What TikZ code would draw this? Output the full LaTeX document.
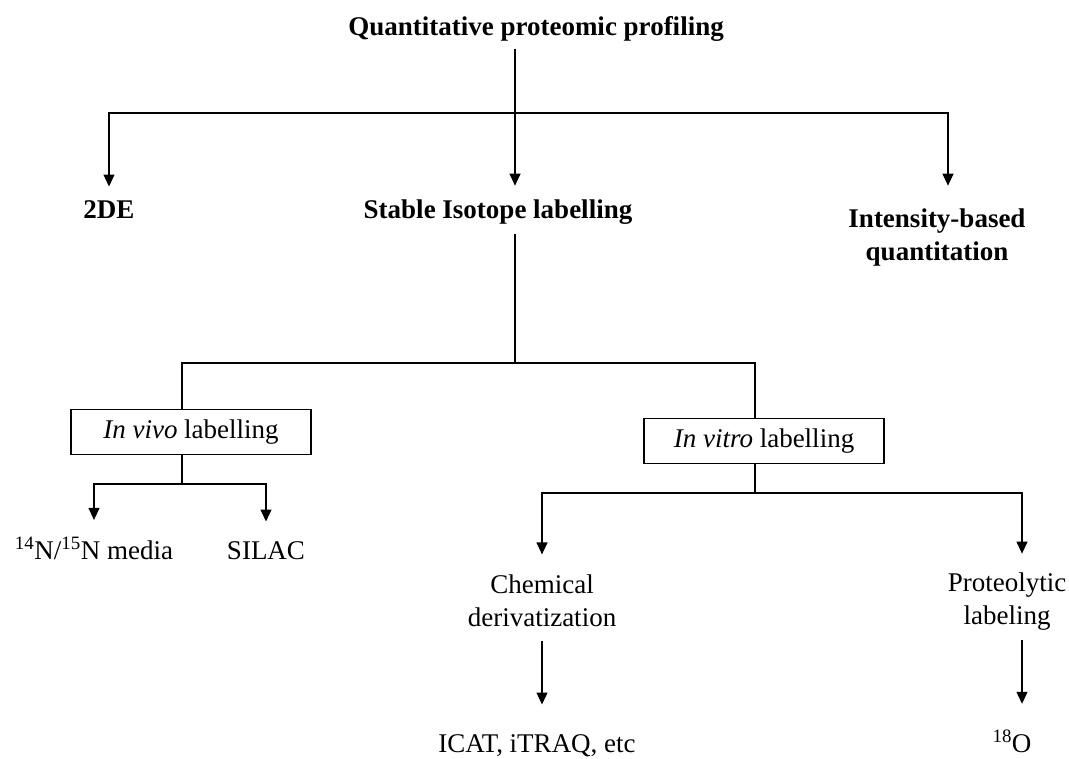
\documentclass[tikz,border=0pt]{standalone}
\usepackage{fontspec}
\setmainfont{Liberation Serif}
\usetikzlibrary{arrows.meta,positioning}

\begin{document}
\begin{tikzpicture}[x=1pt, y=-1pt, line width=1.2pt,
    every node/.style={inner sep=0pt, font=\fontsize{27}{33}\selectfont},
    head/.style={font=\fontsize{27}{33}\selectfont\bfseries},
    labelbox/.style={draw, minimum width=240pt, minimum height=45pt},
    arr/.style={-{Triangle[width=11pt,length=12pt]}}]
  \useasboundingbox (0,0) rectangle (1069,759);

  % the title and the three methods
  \node[head, anchor=base] (quant) at (536,36) {Quantitative proteomic profiling};
  \node[head, anchor=base] (tde) at (109,219) {2DE};
  \node[head, anchor=base] (sil) at (498,219) {Stable Isotope labelling};
  \node[head, align=center] (ibq) at (937,238) {Intensity-based\\quantitation};

  % first split
  \coordinate (b1) at (515,113);
  \draw[shorten <=6pt] (quant.south -| b1) -- (b1);
  \draw[arr, shorten >=14pt] (b1) -| (tde.north);
  \draw[arr, shorten >=14pt] (b1) -- (b1 |- sil.north);
  \draw[arr, shorten >=23pt] (b1) -| ([xshift=11pt]ibq.north);

  % the two kinds of labelling
  \node[labelbox] (vivo) at (191,432) {\textit{In vivo} labelling};
  \node[labelbox] (vitro) at (764,441) {\textit{In vitro} labelling};
  \coordinate (b2) at (515,363);
  \draw[shorten <=8pt] (sil.south -| b2) -- (b2);
  \draw (b2) -| ([xshift=-9pt]vivo.north);
  \draw (b2) -| ([xshift=-9pt]vitro.north);

  % in vivo leaves
  \node[anchor=base] (nmed) at (94,559) {\textsuperscript{14}N/\textsuperscript{15}N media};
  \node[anchor=base] (silac) at (266,559) {SILAC};
  \coordinate (b3) at (182,484);
  \draw (vivo.south -| b3) -- (b3);
  \draw[arr, shorten >=17pt] (b3) -| (nmed.north);
  \draw[arr, shorten >=19pt] (b3) -| (silac.north);

  % in vitro leaves
  \node[align=center] (chem) at (542,601) {Chemical\\derivatization};
  \node[align=center] (prot) at (1007,602) {Proteolytic\\labeling};
  \coordinate (b4) at (755,493);
  \draw (vitro.south -| b4) -- (b4);
  \draw[arr, shorten >=20pt] (b4) -| (chem.north);
  \draw[arr, shorten >=19pt] (b4) -| ([xshift=15pt]prot.north);

  % the reagents
  \node[anchor=base] (icat) at (537,752) {ICAT, iTRAQ, etc};
  \node[anchor=base] (oxy) at (1012,752) {\textsuperscript{18}O};
  \draw[arr, shorten <=13pt, shorten >=29pt] (chem.south) -- (chem.south |- icat.north);
  \draw[arr, shorten <=9pt, shorten >=26pt] ([xshift=15pt]prot.south) -- ([xshift=15pt]prot.south |- oxy.north);
\end{tikzpicture}
\end{document}
